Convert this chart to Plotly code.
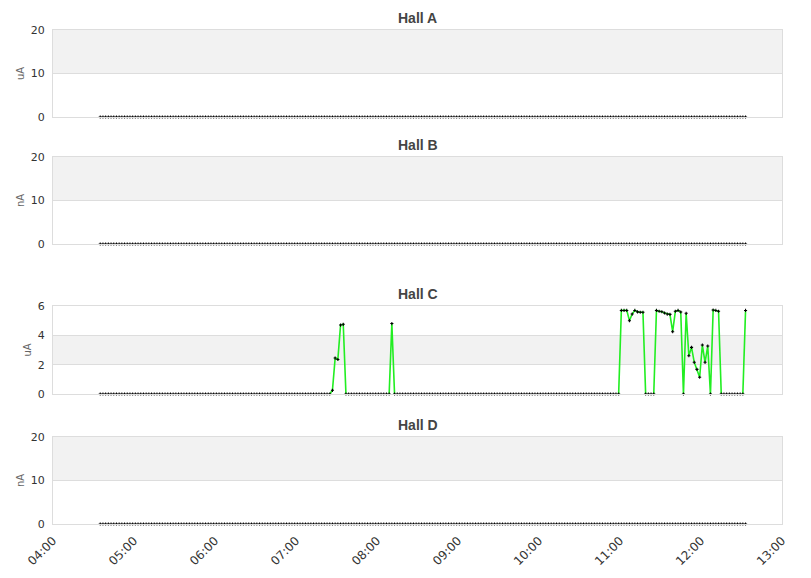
import pandas as pd
import plotly.graph_objects as go

# sample times every 2 minutes, 04:35 .. 12:33
times = pd.date_range("2024-01-01 04:35", "2024-01-01 12:33", freq="2min")

hall_a = [0.0] * len(times)
hall_b = [0.0] * len(times)
hall_d = [0.0] * len(times)

# Hall C non-zero readings (uA), everything else reads 0
hall_c_readings = {
    "07:27": 0.25, "07:29": 2.45, "07:31": 2.35, "07:33": 4.7, "07:35": 4.75,
    "08:11": 4.8,
    "11:01": 5.7, "11:03": 5.7, "11:05": 5.7, "11:07": 5.0, "11:09": 5.45,
    "11:11": 5.7, "11:13": 5.6, "11:15": 5.57, "11:17": 5.57,
    "11:27": 5.7, "11:29": 5.64, "11:31": 5.61, "11:33": 5.52, "11:35": 5.45,
    "11:37": 5.43, "11:39": 4.25, "11:41": 5.64, "11:43": 5.7, "11:45": 5.59,
    "11:49": 5.5, "11:51": 2.61, "11:53": 3.18, "11:55": 2.16, "11:57": 1.68,
    "11:59": 1.14, "12:01": 3.34, "12:03": 2.16, "12:05": 3.27,
    "12:09": 5.73, "12:11": 5.7, "12:13": 5.64,
    "12:33": 5.7,
}
hall_c = [hall_c_readings.get(t.strftime("%H:%M"), 0.0) for t in times]

titles = ["Hall A", "Hall B", "Hall C", "Hall D"]
units = ["uA", "nA", "uA", "nA"]
yranges = [(0, 20), (0, 20), (0, 6), (0, 20)]
yticks = [[0, 10, 20], [0, 10, 20], [0, 2, 4, 6], [0, 10, 20]]
hour_ticks = pd.date_range("2024-01-01 04:00", "2024-01-01 13:00", freq="1h")
hour_labels = [t.strftime("%H:%M") for t in hour_ticks]

# the page body has an 8px margin, so the figure is 8px smaller each way
W, H = 803, 570
x0, x1 = 45, 774
panels = [(22, 109), (149, 236), (298, 386), (429, 516)]  # top,bottom px

fig = go.Figure()
series = [hall_a, hall_b, hall_c, hall_d]
GREEN = "#22ee22"
GRID = "#dddddd"

def line_only(vals):
    # drop flat zero runs so the green line is only drawn where it leaves 0
    out = []
    for i, v in enumerate(vals):
        prev_v = vals[i - 1] if i > 0 else 0
        next_v = vals[i + 1] if i < len(vals) - 1 else 0
        out.append(v if (v != 0 or prev_v != 0 or next_v != 0) else None)
    return out

for i, vals in enumerate(series):
    n = "" if i == 0 else str(i + 1)
    top, bot = panels[i]
    fig.add_trace(go.Scatter(x=times, y=line_only(vals), mode="lines",
                             line=dict(color=GREEN, width=1.6),
                             xaxis="x" + n, yaxis="y" + n, hoverinfo="skip",
                             showlegend=False, connectgaps=False))
    fig.add_trace(go.Scatter(x=times, y=vals, mode="markers",
                             marker=dict(symbol="cross", size=2.6, color="black"),
                             xaxis="x" + n, yaxis="y" + n, cliponaxis=False,
                             showlegend=False))
    lo, hi = yranges[i]
    # alternating grey band
    for k in range(len(yticks[i]) - 1):
        if k % 2 == 1:
            fig.add_shape(type="rect", xref="x" + n + " domain", yref="y" + n,
                          x0=0, x1=1, y0=yticks[i][k], y1=yticks[i][k + 1],
                          fillcolor="#f2f2f2", line_width=0, layer="below")
    fig.layout["xaxis" + n] = dict(
        domain=[x0 / W, x1 / W], anchor="y" + n, automargin=False,
        range=[hour_ticks[0], hour_ticks[-1]],
        tickvals=hour_ticks, ticktext=hour_labels,
        showticklabels=(i == 3), tickangle=-45,
        showgrid=False, showline=True, mirror=True, linecolor=GRID,
        zeroline=False, ticks="outside", ticklen=4, tickcolor="rgba(0,0,0,0)",
        tickfont=dict(family="DejaVu Sans", size=12, color="#333333"),
        matches=None if i == 0 else "x",
    )
    fig.layout["yaxis" + n] = dict(
        domain=[1 - bot / H, 1 - top / H], anchor="x" + n, automargin=False,
        range=[lo, hi], tickvals=yticks[i],
        showgrid=True, gridcolor=GRID, showline=True, mirror=True,
        linecolor=GRID, zeroline=False, ticks="outside", ticklen=5,
        tickcolor="rgba(0,0,0,0)",
        tickfont=dict(family="DejaVu Sans", size=11, color="#333333"),
        title=dict(text=units[i], standoff=4,
                   font=dict(family="DejaVu Sans", size=10, color="#666666")),
    )
    fig.add_annotation(text="<b>" + titles[i] + "</b>", xref="paper", yref="paper",
                       x=(x0 + x1) / 2 / W, y=1 - (top - 12) / H,
                       showarrow=False, xanchor="center", yanchor="middle",
                       font=dict(family="Liberation Sans", size=14, color="#444444"))

fig.update_layout(width=W, height=H, margin=dict(l=0, r=0, t=0, b=0),
                  plot_bgcolor="white", paper_bgcolor="white")

fig.write_html("out.html")
